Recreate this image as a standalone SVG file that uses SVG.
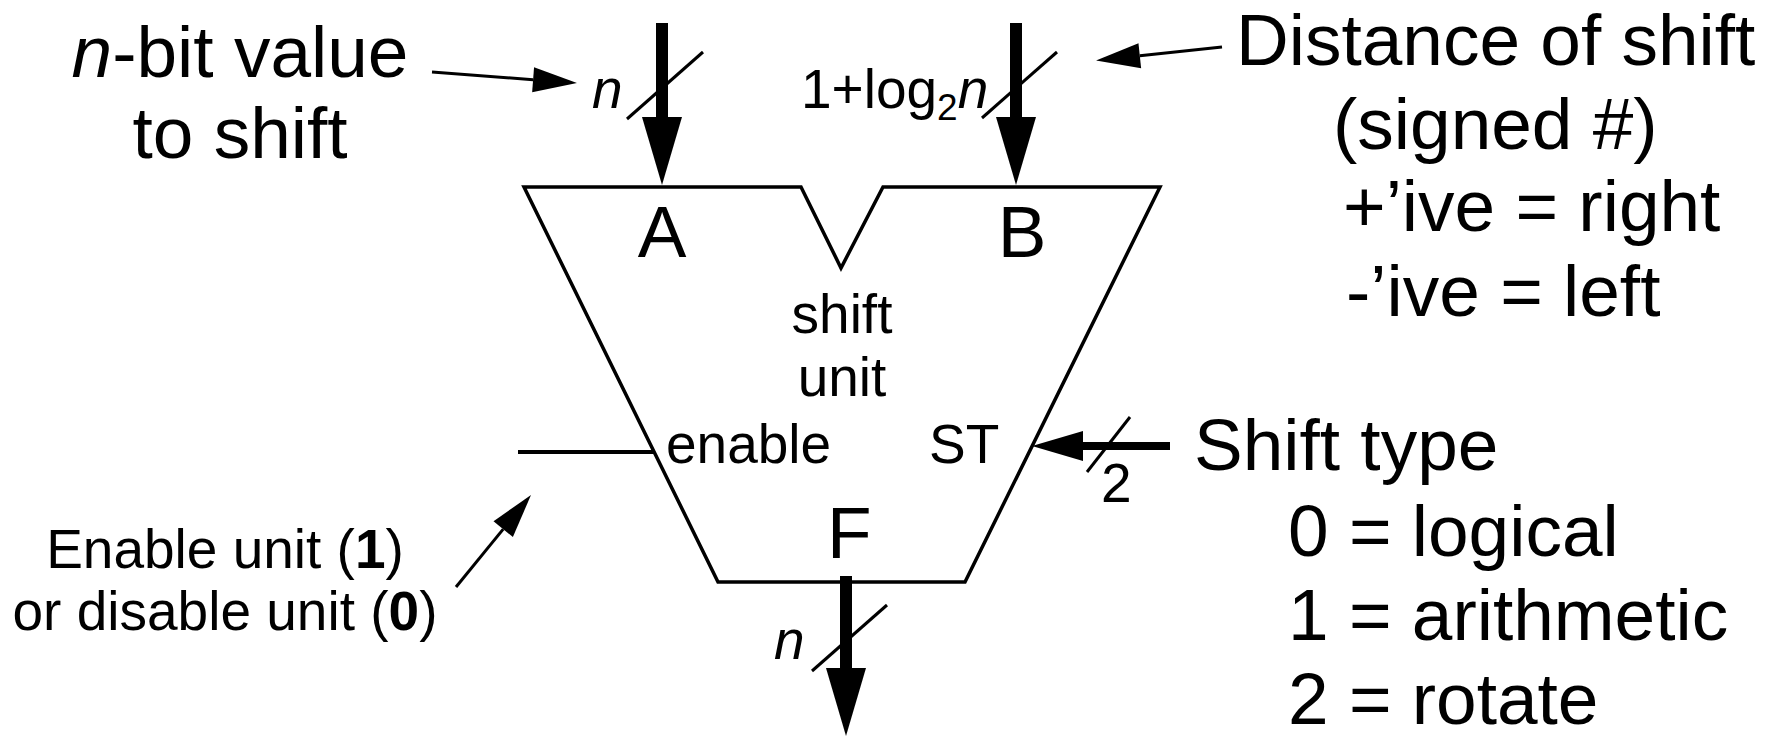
<svg xmlns="http://www.w3.org/2000/svg" width="1786" height="738" viewBox="0 0 1786 738">
<style>
text{font-family:"Liberation Sans",Arial,sans-serif;fill:#000}
.big{font-size:73px}
.sm{font-size:55px}
.it{font-style:italic}
.b{font-weight:bold}
.sub{font-size:37px}
.thin{stroke:#000;stroke-width:3;fill:none}
.bus{stroke:#000;stroke-width:12;fill:none}
.slash{stroke:#000;stroke-width:3;fill:none}
</style>
<defs>
<marker id="ah" markerUnits="userSpaceOnUse" markerWidth="44" markerHeight="25" refX="0" refY="12.5" orient="auto" overflow="visible"><path d="M0,0 L44,12.5 L0,25 Z" fill="#000"/></marker>
<marker id="bh" markerUnits="userSpaceOnUse" markerWidth="68" markerHeight="40" refX="0" refY="20" orient="auto" overflow="visible"><path d="M0,0 L68,20 L0,40 Z" fill="#000"/></marker>
<marker id="sh" markerUnits="userSpaceOnUse" markerWidth="51" markerHeight="30" refX="0" refY="15" orient="auto" overflow="visible"><path d="M0,0 L51,15 L0,30 Z" fill="#000"/></marker>
</defs>
<rect width="1786" height="738" fill="#fff"/>

<g id="shift-unit">
<polygon points="524,187 801,187 841,268 883,187 1160,187 965,582 718,582" fill="#fff" stroke="#000" stroke-width="3.5" stroke-linejoin="miter"/>
<text class="big" x="662" y="257" text-anchor="middle">A</text>
<text class="big" x="1022" y="257" text-anchor="middle">B</text>
<text class="big" x="827" y="558">F</text>
<text class="sm" x="842" y="333" text-anchor="middle">shift</text>
<text class="sm" x="842" y="396" text-anchor="middle">unit</text>
<text class="sm" x="666" y="463">enable</text>
<text class="sm" x="929" y="463">ST</text>
</g>

<g id="label-value">
<text class="big" x="240" y="77" text-anchor="middle"><tspan class="it">n</tspan>-bit value</text>
<text class="big" x="240" y="158" text-anchor="middle">to shift</text>
</g>

<g id="label-distance">
<text class="big" x="1236" y="65">Distance of shift</text>
<text class="big" x="1333" y="149">(signed #)</text>
<text class="big" x="1343" y="231">+’ive = right</text>
<text class="big" x="1346" y="316">-’ive = left</text>
</g>

<g id="label-shifttype">
<text class="big" x="1194" y="470">Shift type</text>
<text class="big" x="1288" y="556">0 = logical</text>
<text class="big" x="1288" y="640">1 = arithmetic</text>
<text class="big" x="1288" y="724">2 = rotate</text>
</g>

<g id="label-enable">
<text class="sm" x="225" y="568" text-anchor="middle">Enable unit (<tspan class="b">1</tspan>)</text>
<text class="sm" x="225" y="630" text-anchor="middle">or disable unit (<tspan class="b">0</tspan>)</text>
</g>

<g id="bus-labels">
<text class="sm it" x="592" y="108">n</text>
<text class="sm" x="801" y="108">1+log<tspan class="sub" dy="12">2</tspan><tspan class="it" dy="-12">n</tspan></text>
<text class="sm it" x="774" y="659">n</text>
<text class="sm" x="1101" y="502">2</text>
</g>

<g id="connectors">
<line class="bus" x1="662" y1="23" x2="662" y2="117" marker-end="url(#bh)"/>
<line class="bus" x1="1016" y1="23" x2="1016" y2="117" marker-end="url(#bh)"/>
<line class="bus" x1="846" y1="576" x2="846" y2="668" marker-end="url(#bh)"/>
<line stroke="#000" stroke-width="8" x1="1170" y1="446" x2="1083" y2="446" marker-end="url(#sh)"/>
<line stroke="#000" stroke-width="4" x1="518" y1="452" x2="654" y2="452"/>
<line class="slash" x1="627" y1="119" x2="703" y2="52"/>
<line class="slash" x1="982" y1="118" x2="1057" y2="52"/>
<line class="slash" x1="812" y1="671" x2="887" y2="605"/>
<line class="slash" x1="1087" y1="472" x2="1130" y2="417"/>
<line class="thin" x1="432" y1="72" x2="533.1" y2="79.7" marker-end="url(#ah)"/>
<line class="thin" x1="1222" y1="47" x2="1139.8" y2="55.8" marker-end="url(#ah)"/>
<line class="thin" x1="456" y1="587" x2="503.2" y2="529.1" marker-end="url(#ah)"/>
</g>
</svg>
